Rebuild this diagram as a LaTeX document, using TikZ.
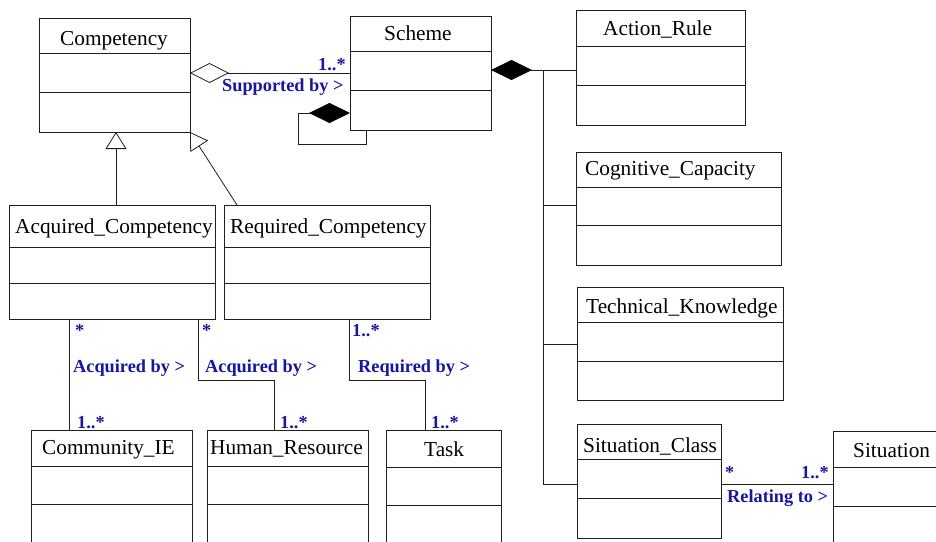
\documentclass[tikz,border=0pt]{standalone}
\usepackage{fontspec}
\setmainfont{Liberation Serif}
\usetikzlibrary{arrows.meta}
\definecolor{lbl}{RGB}{22,22,160}
\definecolor{ink}{RGB}{30,30,30}
\tikzset{
 clsbox/.style={draw=ink, line width=0.8pt, inner sep=0pt, outer sep=0pt, anchor=north west},
 clsline/.style={draw=ink, line width=0.8pt},
 clsname/.style={font=\fontsize{21.3}{24}\selectfont, inner sep=0pt, anchor=base west},
 lbltxt/.style={font=\fontsize{18.3}{21}\selectfont\bfseries, text=lbl, inner sep=0pt, anchor=base west},
 conn/.style={draw=ink, line width=0.8pt},
 aggr/.style={-{Diamond[open, length=39pt, width=20pt]}},
 compo/.style={-{Diamond[length=41pt, width=20pt, color=black]}},
 inh/.style={-{Triangle[open, length=17pt, width=21pt]}},
}
\newcommand\umlclass[9]{%
 \node[clsbox, minimum width={#4-#2}, minimum height={#5-#3}] (#1) at (#2,#3) {};
 \draw[clsline] (#2,#6) -- (#4,#6);
 \draw[clsline] (#2,#7) -- (#4,#7);
 \node[clsname] (#1-name) at (#9) {#8};
}
\begin{document}
\begin{tikzpicture}[x=1pt,y=-1pt]
\useasboundingbox (0,0) rectangle (936,541);
\clip (0,0) rectangle (936,541);
% classes
\umlclass{comp}{39}{18}{190}{132}{53}{92}{Competency}{60,45}
\umlclass{scheme}{350}{16}{491}{130}{51}{90}{Scheme}{384,40}
\umlclass{action}{576}{10}{745}{125}{46}{85}{Action\_Rule}{603,35}
\umlclass{cog}{576}{152}{781}{265}{187}{225}{Cognitive\_Capacity}{585,175}
\umlclass{tech}{577}{287}{783}{400}{322}{361}{Technical\_Knowledge}{586,313}
\umlclass{sitc}{577}{424}{721}{538}{459}{498}{Situation\_Class}{583,452}
\umlclass{sit}{833}{431}{960}{570}{467}{506}{Situation}{853,457}
\umlclass{acq}{9}{205}{215}{319}{247}{283}{Acquired\_Competency}{15,233}
\umlclass{req}{224}{205}{430}{319}{247}{283}{Required\_Competency}{230,233}
\umlclass{ce}{31}{430}{192}{570}{466}{504}{Community\_IE}{42,454}
\umlclass{hr}{207}{430}{368}{570}{466}{504}{Human\_Resource}{210,454}
\umlclass{task}{386}{430}{501}{570}{467}{505}{Task}{424,456}
% aggregation Competency - Scheme
\draw[conn, aggr] (scheme.west |- 0,73) -- (comp.east |- 0,73);
\node[lbltxt] (l-sup-m) at (318,70) {1..*};
\node[lbltxt] (l-sup) at (222,91) {Supported by >};
% self composition on Scheme
\draw[conn, compo] (scheme.south -| 366,0) -- (366,144) -- (298,144) -- (298,113) -- (scheme.west |- 0,113);
% composition Scheme - parts
\coordinate (bustop) at (543,70);
\coordinate (busbot) at (543,484);
\draw[conn, compo] (action.west |- 0,70) -- (scheme.east |- 0,70);
\draw[conn] (bustop) -- (busbot) -- (sitc.west |- busbot);
\draw[conn] (543,205) -- (cog.west |- 0,205);
\draw[conn] (543,344) -- (tech.west |- 0,344);
% inheritance
\draw[conn, inh] (acq.north -| 116,0) -- (comp.south -| 116,0);
\draw[conn, inh] (req.north -| 237,0) -- (comp.south east);
% associations bottom
\draw[conn] (acq.south -| 69,0) -- (ce.north -| 69,0);
\node[lbltxt] (l-a1s) at (75,336) {*};
\node[lbltxt] (l-a1) at (73,372) {Acquired by >};
\node[lbltxt] (l-a1m) at (77,428) {1..*};
\draw[conn] (acq.south -| 198,0) -- (198,380) -- (274,380) -- (hr.north -| 274,0);
\node[lbltxt] (l-a2s) at (202,336) {*};
\node[lbltxt] (l-a2) at (205,372) {Acquired by >};
\node[lbltxt] (l-a2m) at (280,428) {1..*};
\draw[conn] (req.south -| 349,0) -- (349,380) -- (425,380) -- (task.north -| 425,0);
\node[lbltxt] (l-r1s) at (352,336) {1..*};
\node[lbltxt] (l-r1) at (358,372) {Required by >};
\node[lbltxt] (l-r1m) at (431,428) {1..*};
% Situation_Class - Situation
\draw[conn] (sitc.east |- 0,484) -- (sit.west |- 0,484);
\node[lbltxt] (l-rs) at (725,478) {*};
\node[lbltxt] (l-rm) at (801,478) {1..*};
\node[lbltxt] (l-rel) at (727,502) {Relating to >};
\end{tikzpicture}
\end{document}
